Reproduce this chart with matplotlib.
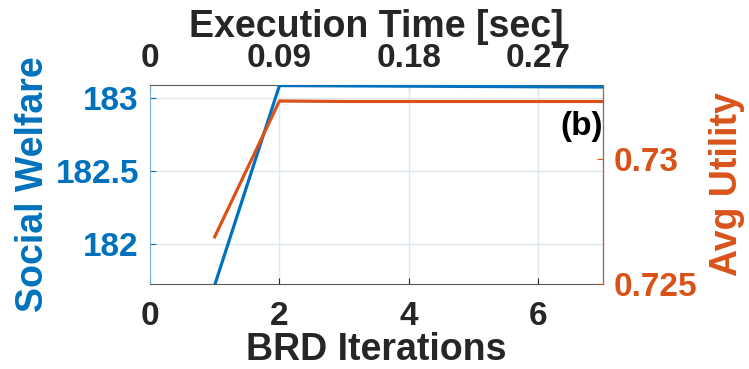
import numpy as np
import matplotlib
matplotlib.use('Agg')
from matplotlib import pyplot as plt

plt.rcParams['font.family'] = ['Liberation Sans', 'DejaVu Sans']
plt.rcParams['font.weight'] = 'bold'
plt.rcParams['axes.labelweight'] = 'bold'

# BRD iterations vs welfare / utility
iters = [1, 2, 3, 4, 5, 6, 7]
welfare = [181.72, 183.087, 183.085, 183.083, 183.081, 183.079, 183.077]
utility = [0.72689, 0.73233, 0.73231, 0.73231, 0.73231, 0.73231, 0.73231]

x_ticks = [0, 2, 4, 6]
time_ticks = [0, 0.09, 0.18, 0.27]
sec_per_iter = 0.045
welfare_ticks = [182, 182.5, 183]
utility_ticks = [0.725, 0.73]

blue = '#0072BD'
orange = '#D95319'
dark = '#262626'
grid_col = '#dfe8f0'

fig = plt.figure(figsize=(7.49, 3.69), dpi=100)
ax = fig.add_axes([150/749, 85/369, 453/749, 199/369])
ax2 = ax.twinx()

ax.plot(iters, welfare, color=blue, lw=2.3, zorder=3)
ax2.plot(iters, utility, color=orange, lw=2.3, zorder=3)

ax.set_xlim(0, 7)
ax.set_ylim(181.727, 183.091)
ax2.set_ylim(0.725, 0.73297)

ax.set_xticks(x_ticks)
ax.set_yticks(welfare_ticks)
ax.set_yticklabels(['182', '182.5', '183'])
ax2.set_yticks(utility_ticks)
ax2.set_yticklabels(['0.725', '0.73'])

ax.grid(True, color=grid_col, lw=1.0)
ax.set_axisbelow(True)

ax.tick_params(axis='x', direction='in', colors=dark, labelsize=24, pad=12, length=4)
ax.tick_params(axis='y', direction='in', colors=blue, labelsize=24, pad=8, length=4)
ax2.tick_params(axis='y', direction='in', colors=orange, labelsize=24, pad=8, length=4)

for s in ['top', 'bottom']:
    ax.spines[s].set_color('#5a5a5a')
ax.spines['left'].set_color('#7fb2d9')
ax2.spines['left'].set_visible(False)
ax2.spines['right'].set_color(orange)
ax2.spines['top'].set_visible(False)
ax2.spines['bottom'].set_visible(False)

top = ax.secondary_xaxis('top', functions=(lambda x: x * sec_per_iter, lambda t: t / sec_per_iter))
top.set_xticks(time_ticks)
top.set_xticklabels(['0', '0.09', '0.18', '0.27'])
top.tick_params(direction='in', colors=dark, labelsize=24, pad=8, length=4)
top.spines['top'].set_visible(False)
top.set_xlabel('Execution Time [sec]', fontsize=27, color=dark, labelpad=4)

ax.set_xlabel('BRD Iterations', fontsize=27, color=dark, labelpad=0)
ax.set_ylabel('Social Welfare', fontsize=27, color=blue, labelpad=3)
ax2.set_ylabel('Avg Utility', fontsize=27, color=orange, labelpad=8)

ax.text(1.0, 0.79, '(b)', transform=ax.transAxes, ha='right', va='center',
        fontsize=24, color='black', zorder=5)

fig.savefig('out.png', dpi=100)
